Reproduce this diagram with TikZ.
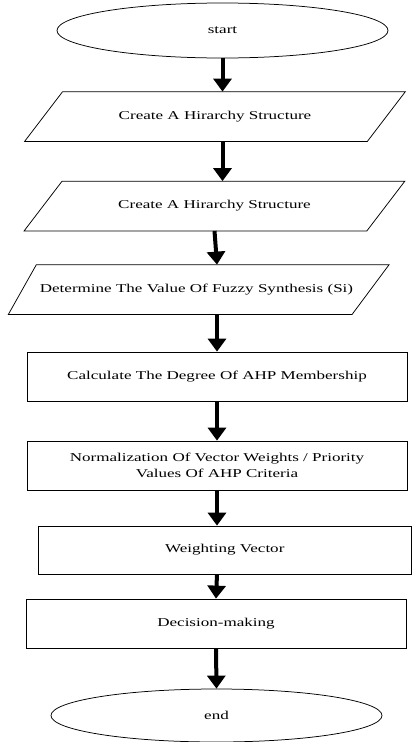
\documentclass[tikz,border=0pt]{standalone}
\usepackage{fontspec}
\setmainfont{Liberation Serif}[FakeStretch=1.42]
\usetikzlibrary{shapes.geometric,arrows.meta}

\tikzset{every picture/.style={line width=0.75pt}}
\tikzset{
  terminal/.style={draw, ellipse, minimum width=331pt, minimum height=55pt, inner sep=0pt},
  databox/.style={rectangle, minimum width=342pt, minimum height=49pt, inner sep=0pt},
  procbox/.style={draw, rectangle, minimum width=380pt, minimum height=49pt, inner sep=0pt, align=center},
  flow/.style={line width=4pt, -{Triangle[width=18pt,length=13pt]}},
}

\begin{document}
\begin{tikzpicture}[x=1pt,y=1pt,yscale=-1,xscale=1]
\fontsize{12}{16}\selectfont
\useasboundingbox (0,0) rectangle (412,742);

%Shape: Ellipse
\node [terminal] (start) at (222.5,30.5) {start};
%Flowchart: Data
\node [databox] (hier1) at (215,116.5) {Create A Hirarchy Structure};
\node [databox] (hier2) at (214.5,206) {Create A Hirarchy Structure};
\node [databox, minimum width=347.5pt] (fuzzy) at (196.5,289.5) {Determine The Value Of Fuzzy Synthesis (Si)};
\foreach \n/\l/\r in {hier1/19/19, hier2/19/19, fuzzy/14/18.5}
  \draw ([xshift=\l pt]\n.north west) -- ([xshift=\r pt]\n.north east)
        -- ([xshift=-\r pt]\n.south east) -- ([xshift=-\l pt]\n.south west) -- cycle;
%Flowchart: Process
\node [procbox] (calc) at (217,376.5) {Calculate The Degree Of AHP Membership};
\node [procbox] (norm) at (217,465.5) {Normalization Of Vector Weights / Priority\\Values Of AHP Criteria};
\node [procbox, minimum width=373.5pt, minimum height=48pt] (weight) at (224.75,550) {Weighting Vector};
\node [procbox] (decide) at (216,623.5) {Decision-making};
%Shape: Ellipse
\node [terminal, minimum height=53pt] (end) at (216.5,715.5) {end};

%Straight Lines
\draw [flow] (start.south) -- (start.south |- hier1.north);
\draw [flow] (hier1.south -| start.south) -- (hier2.north -| start.south);
\draw [flow] (hier2.south) -- (fuzzy.north -| calc.north);
\draw [flow] (fuzzy.south -| calc.north) -- (calc.north);
\draw [flow] (calc.south) -- (norm.north);
\draw [flow] (norm.south) -- (weight.north -| norm.south);
\draw [flow] (weight.south -| norm.south) -- (decide.north);
\draw [flow] (decide.south) -- (end.north);

\end{tikzpicture}
\end{document}
